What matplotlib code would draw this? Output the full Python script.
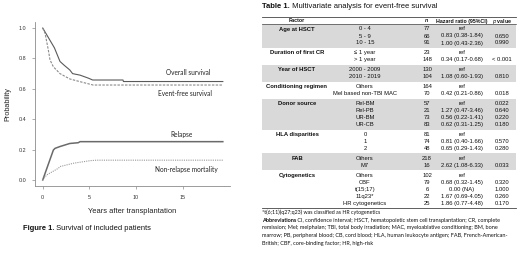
import matplotlib
matplotlib.use("Agg")
import matplotlib.pyplot as plt
from matplotlib.patches import Rectangle

# ---------------- data: survival curves (years, probability) ----------------
os_t = [0, 0.53, 1.25, 1.85, 2.3, 2.9, 3.2, 4.0, 4.9, 5.35, 8.6, 8.65, 19.3]
os_p = [1.0, 0.945, 0.87, 0.78, 0.755, 0.724, 0.70, 0.69, 0.67, 0.658, 0.658, 0.648, 0.648]
efs_t = [0, 0.25, 0.6, 0.78, 1.14, 1.85, 2.9, 4.0, 5.4, 19.3]
efs_p = [1.0, 0.965, 0.855, 0.79, 0.745, 0.70, 0.665, 0.647, 0.625, 0.625]
rel_t = [0, 1.14, 1.32, 1.85, 2.9, 3.8, 4.0, 19.3]
rel_p = [0, 0.197, 0.208, 0.22, 0.24, 0.245, 0.252, 0.252]
nrm_t = [0, 0.43, 1.68, 1.85, 3.3, 5.1, 5.8, 19.3]
nrm_p = [0, 0.033, 0.077, 0.088, 0.11, 0.127, 0.13, 0.13]
curve_labels = ["Overall survival", "Event-free survival", "Relapse", "Non-relapse mortality"]
x_ticks = [0, 5, 10, 15]
y_ticks = [0.0, 0.2, 0.4, 0.6, 0.8, 1.0]

# ---------------- data: table ----------------
factors = ["Age at HSCT", "Duration of first CR", "Year of HSCT", "Conditioning regimen",
           "Donor source", "HLA disparities", "FAB", "Cytogenetics"]
levels = [["0 - 4", "5 - 9", "10 - 15"],
          ["\u2264 1 year", "> 1 year"],
          ["2000 - 2009", "2010 - 2019"],
          ["Others", "Mel based non-TBI MAC"],
          ["Rel-BM", "Rel-PB", "UR-BM", "UR-CB"],
          ["0", "1", "2"],
          ["Others", "M7"],
          ["Others", "CBF", "t(15;17)", "11q23*", "HR cytogenetics"]]
counts = [[77, 66, 91], [23, 148], [130, 104], [164, 70], [57, 21, 73, 83],
          [81, 74, 48], [218, 16], [102, 79, 6, 22, 25]]
hazard = [["ref", "0.83 (0.38-1.84)", "1.00 (0.43-2.36)"],
          ["ref", "0.34 (0.17-0.68)"],
          ["ref", "1.08 (0.60-1.93)"],
          ["ref", "0.42 (0.21-0.86)"],
          ["ref", "1.27 (0.47-3.46)", "0.56 (0.22-1.41)", "0.62 (0.31-1.25)"],
          ["ref", "0.81 (0.40-1.66)", "0.65 (0.29-1.43)"],
          ["ref", "2.62 (1.08-6.33)"],
          ["ref", "0.68 (0.32-1.45)", "0.00 (NA)", "1.67 (0.69-4.05)", "1.86 (0.77-4.48)"]]
pvals = [["", "0.650", "0.990"],
         ["", "< 0.001"],
         ["", "0.810"],
         ["", "0.018"],
         ["0.022", "0.640", "0.220", "0.180"],
         ["", "0.570", "0.280"],
         ["", "0.033"],
         ["", "0.320", "1.000", "0.260", "0.170"]]
shaded = [True, False, True, False, True, False, True, False]
footnote = "*t(6;11)(q27;q23) was classified as HR cytogenetics"
abbrev_lines = [" CI, confidence interval; HSCT, hematopoietic stem cell transplantation; CR, complete",
                "remission; Mel; melphalan; TBI, total body irradiation; MAC, myeloablative conditioning; BM, bone",
                "marrow; PB, peripheral blood; CB, cord blood; HLA, human leukocyte antigen; FAB, French-American-",
                "British; CBF, core-binding factor; HR, high-risk"]

W, H = 520, 258
fig = plt.figure(figsize=(W / 100, H / 100), dpi=100)
fig.patch.set_facecolor("white")

# ---------------- survival chart ----------------
ax = fig.add_axes([35 / W, 1 - 186 / H, (230 - 35) / W, (186 - 22) / H])
ax.plot(os_t, os_p, color="#5a5a5a", lw=0.8)
ax.plot(efs_t, efs_p, color="#8a8a8a", lw=0.8, ls=(0, (2.2, 1.2)))
ax.plot(rel_t, rel_p, color="#6a6a6a", lw=1.1)
ax.plot(nrm_t, nrm_p, color="#9a9a9a", lw=0.8, ls=(0, (1, 1)))
ax.set_xlim(-0.83, 20.07)
ax.set_ylim(-0.04, 1.04)
ax.set_xticks(x_ticks)
ax.set_yticks(y_ticks)
ax.set_yticklabels([f"{v:.1f}" for v in y_ticks])
for s in ["top", "right"]:
    ax.spines[s].set_visible(False)
for s in ["left", "bottom"]:
    ax.spines[s].set_color("#8c8c8c")
    ax.spines[s].set_linewidth(0.6)
ax.tick_params(axis="both", length=2.2, width=0.5, color="#8c8c8c", labelsize=3.9,
               labelcolor="#333333", pad=4)
for lab in ax.get_xticklabels() + ax.get_yticklabels():
    lab.set_family("Liberation Sans")
ax.set_ylabel("Probability", fontsize=5.2, family="Liberation Sans", labelpad=5, color="#222222")
ax.set_xlabel("Years after transplantation", fontsize=5.4, family="Liberation Sans", labelpad=6,
              color="#222222")
lab_pos = [(15.6, 0.71), (15.25, 0.566), (14.9, 0.296), (15.4, 0.066)]
for txt, (tx, ty) in zip(curve_labels, lab_pos):
    ax.text(tx, ty, txt, ha="center", va="center", fontsize=4.7, family="Lato", color="#222222")

# ---------------- overlay in pixel coordinates ----------------
tax = fig.add_axes([0, 0, 1, 1])
tax.set_xlim(0, W)
tax.set_ylim(H, 0)
tax.axis("off")
tax.patch.set_alpha(0)
renderer = fig.canvas.get_renderer()


def mixed(x, y, parts, size, family, color="#111111"):
    cx = x
    for txt, weight in parts:
        t = tax.text(cx, y, txt, fontsize=size, family=family, fontweight=weight,
                     ha="left", va="center", color=color)
        bb = t.get_window_extent(renderer)
        cx += bb.width


# figure caption
mixed(23, 228, [("Figure 1.", "bold"), (" Survival of included patients", "normal")], 5.4,
      "Liberation Sans")

# table title
mixed(262, 6, [("Table 1.", "bold"), (" Multivariate analysis for event-free survival", "normal")],
      5.5, "Liberation Sans")

x_left, x_right = 262, 516
col_factor, col_level, col_n, col_hr, col_p = 297, 365, 427, 462, 502
fs = 4.2
hfs = 3.8
step, gap = 7.0, 9.9
y0 = 29.0

tax.plot([x_left, x_right], [17, 17], color="#444444", lw=0.6)
tax.text(col_factor, 21, "Factor", ha="center", va="center", fontsize=hfs, fontweight="bold",
         family="Liberation Sans", color="#111111")
tax.text(col_n, 21, "n", ha="center", va="center", fontsize=hfs, fontweight="bold",
         style="italic", family="Liberation Sans", color="#111111")
tax.text(col_hr, 21, "Hazard ratio (95%CI)", ha="center", va="center", fontsize=hfs,
         fontweight="bold", family="Liberation Sans", color="#111111")
tax.text(col_p, 21, "$\\mathbf{\\it{p}}$ value", ha="center", va="center", fontsize=hfs,
         fontweight="bold", family="Liberation Sans", color="#111111")
tax.plot([x_left, x_right], [24.2, 24.2], color="#444444", lw=0.5)

y = y0
last_y = y0
for gi, fac in enumerate(factors):
    if gi > 0:
        y = last_y + gap
    first_y = y
    ys = []
    for li, lev in enumerate(levels[gi]):
        if li > 0:
            y = y + step
        ys.append(y)
    last_y = ys[-1]
    if shaded[gi]:
        tax.add_patch(Rectangle((x_left, first_y - gap / 2), x_right - x_left,
                                (last_y - first_y) + gap, facecolor="#d9d9d9",
                                edgecolor="none", zorder=0))
    tax.text(col_factor, first_y, fac, ha="center", va="center", fontsize=fs,
             fontweight="bold", family="Liberation Sans", color="#111111")
    for li, yy in enumerate(ys):
        tax.text(col_level, yy, levels[gi][li], ha="center", va="center", fontsize=fs,
                 family="Liberation Sans", color="#111111")
        tax.text(col_n, yy, str(counts[gi][li]), ha="center", va="center", fontsize=fs,
                 family="Liberation Sans", color="#111111")
        tax.text(col_hr, yy, hazard[gi][li], ha="center", va="center", fontsize=fs,
                 family="Liberation Sans", color="#111111")
        if pvals[gi][li]:
            tax.text(col_p, yy, pvals[gi][li], ha="center", va="center", fontsize=fs,
                     family="Liberation Sans", color="#111111")

bottom_rule = last_y + gap / 2
tax.plot([x_left, x_right], [bottom_rule, bottom_rule], color="#444444", lw=0.6)

tax.text(x_left, bottom_rule + 3.6, footnote, ha="left", va="center", fontsize=3.8,
         family="Lato", color="#111111")
ab_y = bottom_rule + 12
mixed(x_left, ab_y, [("Abbreviations", "bold"), (abbrev_lines[0], "normal")], 4.0, "Lato")
for i, line in enumerate(abbrev_lines[1:]):
    tax.text(x_left, ab_y + 7.6 * (i + 1), line, ha="left", va="center", fontsize=4.0,
             family="Lato", color="#111111")

fig.savefig("out.png", dpi=100)
